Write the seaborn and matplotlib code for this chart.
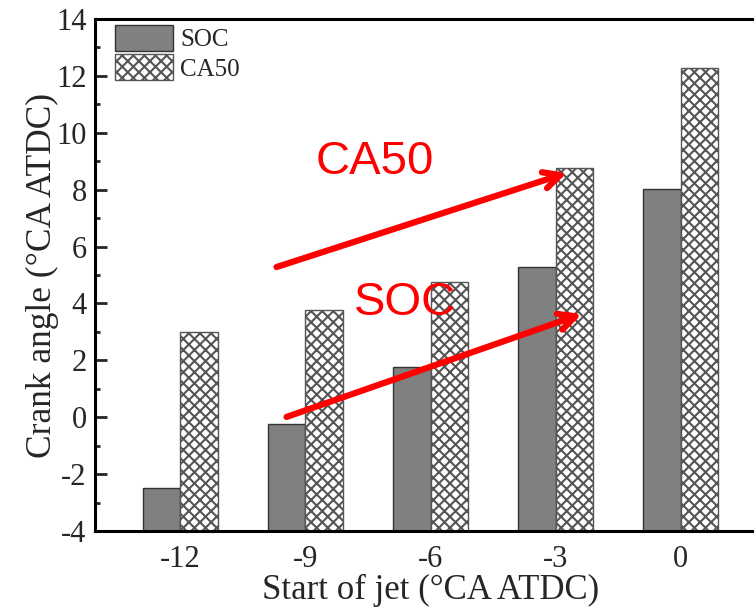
import matplotlib
matplotlib.use("Agg")
import matplotlib.pyplot as plt
from matplotlib.patches import Patch
from matplotlib.ticker import MultipleLocator
import pandas as pd
import seaborn as sns

# Start of jet injection timing (°CA ATDC)
jet_timing = ["-12", "-9", "-6", "-3", "0"]
# Start of combustion and 50% burn point (°CA ATDC)
soc_values = [-2.5, -0.25, 1.77, 5.28, 8.03]
ca50_values = [3.0, 3.77, 4.75, 8.76, 12.28]
series_names = ["SOC", "CA50"]

df = pd.DataFrame({
    "jet": jet_timing * 2,
    "angle": soc_values + ca50_values,
    "series": [series_names[0]] * len(jet_timing) + [series_names[1]] * len(jet_timing),
})

sns.set_theme(style="white")
plt.rcParams["font.family"] = ["Liberation Serif", "DejaVu Serif"]
plt.rcParams["hatch.linewidth"] = 1.5
plt.rcParams["axes.unicode_minus"] = False

y_floor = -4
fig = plt.figure(figsize=(7.54, 6.08), dpi=100)
ax = fig.add_axes([95 / 754, 1 - 531 / 608, (766 - 95) / 754, (531 - 19) / 608])

sns.barplot(
    data=df, x="jet", y="angle", hue="series",
    order=jet_timing, hue_order=series_names,
    palette={"SOC": "#808080", "CA50": "white"},
    width=0.6, edgecolor="#333333", linewidth=1.0,
    legend=False, ax=ax,
)
# bars rise from the bottom of the axis rather than from zero
for container in ax.containers:
    for bar in container:
        top = bar.get_y() + bar.get_height()
        bar.set_y(y_floor)
        bar.set_height(top - y_floor)
for bar in ax.containers[1]:
    bar.set_hatch("xxx")
    bar.set_edgecolor("#555555")

ax.set_ylim(y_floor, 14)
ax.set_xlim(-0.68, 4.68)
ax.yaxis.set_major_locator(MultipleLocator(2))
ax.yaxis.set_minor_locator(MultipleLocator(1))
ax.tick_params(axis="y", which="major", direction="in", length=8.5, width=2,
               left=True, labelsize=22, pad=6)
ax.tick_params(axis="y", which="minor", direction="in", length=3.5, width=2, left=True)
ax.tick_params(axis="x", length=0, labelsize=22, pad=10)
for side in ["left", "bottom", "top", "right"]:
    ax.spines[side].set_linewidth(2.2)
    ax.spines[side].set_color("black")

ax.set_xlabel("Start of jet (°CA ATDC)", fontsize=25, labelpad=0)
ax.set_ylabel("Crank angle (°CA ATDC)", fontsize=25.5, labelpad=-2)

handles = [
    Patch(facecolor="#808080", edgecolor="#333333", label="SOC"),
    Patch(facecolor="white", edgecolor="#555555", hatch="xxx", label="CA50"),
]
ax.legend(handles=handles, loc="upper left", frameon=False, fontsize=18,
          handlelength=2.3, handleheight=1.2, labelspacing=0.12,
          handletextpad=0.3, borderpad=0, borderaxespad=0,
          bbox_to_anchor=(20 / 671, 1 - 6 / 512))

# Red trend arrows and labels
red = "#ff0000"
ax.annotate("", xy=(3.09, 8.59), xytext=(0.77, 5.28),
            arrowprops=dict(arrowstyle="->,head_length=1.0,head_width=0.5",
                            color=red, lw=4.5, shrinkA=0, shrinkB=0))
ax.annotate("", xy=(3.21, 3.63), xytext=(0.85, 0.01),
            arrowprops=dict(arrowstyle="->,head_length=1.0,head_width=0.5",
                            color=red, lw=4.5, shrinkA=0, shrinkB=0))
ax.text(1.556, 8.96, "CA50", color=red, fontsize=34, ha="center", va="center",
        family=["Liberation Sans", "DejaVu Sans"])
ax.text(1.796, 4.0, "SOC", color=red, fontsize=34, ha="center", va="center",
        family=["Liberation Sans", "DejaVu Sans"])

fig.savefig("out.png", dpi=100)
